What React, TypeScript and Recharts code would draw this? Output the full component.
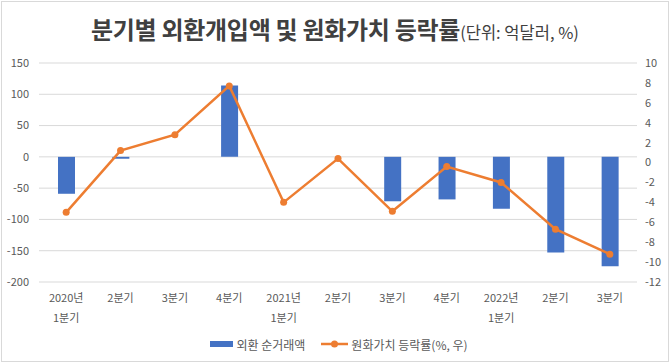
import React from 'react';
import { ComposedChart, Bar, Line, XAxis, YAxis, CartesianGrid, Legend } from 'recharts';

// 분기 라벨 (줄바꿈은 \n)
const quarters = [
  '2020년\n1분기', '2분기', '3분기', '4분기',
  '2021년\n1분기', '2분기', '3분기', '4분기',
  '2022년\n1분기', '2분기', '3분기',
];
// 외환 순거래액 (억달러)
const netTrade = [-59, -3, null, 114, null, null, -71, -68, -83, -153, -175];
// 원화가치 등락률 (%)
const wonChange = [-5.0, 1.2, 2.8, 7.7, -4.0, 0.4, -4.9, -0.4, -2.0, -6.7, -9.2];

const leftTicks = [-200, -150, -100, -50, 0, 50, 100, 150];
const rightTicks = [-12, -10, -8, -6, -4, -2, 0, 2, 4, 6, 8, 10];

const FONT = '"Noto Sans CJK KR", "Noto Sans", sans-serif';
const BLUE = '#4472C4';
const ORANGE = '#ED7D31';
const GREY = '#595959';

const data = quarters.map((q, i) => ({
  q,
  net: netTrade[i],
  won: wonChange[i],
}));

const QuarterTick = ({ x, y, payload }: any) => {
  const lines = String(payload.value).split('\n');
  return (
    <text x={x} y={y} textAnchor="middle" fontSize={11} fill={GREY} fontFamily={FONT}>
      {lines.map((l, i) => (
        <tspan key={i} x={x} y={y + 20 + i * 20}>{l}</tspan>
      ))}
    </text>
  );
};

const CustomLegend = () => (
  <div
    style={{
      display: 'flex',
      justifyContent: 'center',
      alignItems: 'center',
      height: 24,
      fontSize: 12,
      color: GREY,
      fontFamily: FONT,
      paddingLeft: 8,
    }}
  >
    <span style={{ display: 'inline-block', width: 23, height: 6, background: BLUE, marginRight: 3 }} />
    <span>외환 순거래액</span>
    <svg width={27} height={10} style={{ marginLeft: 16, marginRight: 3 }}>
      <line x1={0} y1={5} x2={27} y2={5} stroke={ORANGE} strokeWidth={2.5} />
      <circle cx={13.5} cy={5} r={3.5} fill={ORANGE} />
    </svg>
    <span>원화가치 등락률(%, 우)</span>
  </div>
);

export default function App() {
  return (
    <div
      style={{
        position: 'fixed',
        left: 0,
        top: 0,
        width: 670,
        height: 363,
        background: '#fff',
        fontFamily: FONT,
      }}
    >
      <div
        style={{
          position: 'absolute',
          left: 1,
          top: 1,
          width: 668,
          height: 361,
          border: '1px solid #d9d9d9',
          boxSizing: 'border-box',
        }}
      />
      <div
        style={{
          position: 'absolute',
          left: 0,
          top: 14,
          width: 670,
          textAlign: 'center',
          color: '#404040',
          whiteSpace: 'nowrap',
          lineHeight: '30px',
        }}
      >
        <span style={{ fontSize: 24, fontWeight: 700, letterSpacing: -0.3 }}>
          분기별 외환개입액 및 원화가치 등락률
        </span>
        <span style={{ fontSize: 16.5, fontWeight: 400 }}>(단위: 억달러, %)</span>
      </div>
      <ComposedChart
        width={670}
        height={363}
        data={data}
        margin={{ top: 63, right: 0, bottom: 7, left: 0 }}
        barSize={17}
      >
        <CartesianGrid yAxisId="left" vertical={false} stroke="#d9d9d9" />
        <XAxis
          dataKey="q"
          axisLine={false}
          tickLine={false}
          tickSize={0}
          tickMargin={0}
          height={50}
          interval={0}
          tick={<QuarterTick />}
        />
        <YAxis
          yAxisId="left"
          domain={[-200, 150]}
          ticks={leftTicks}
          width={39}
          axisLine={false}
          tickLine={false}
          tickSize={0}
          tickMargin={10}
          tick={{ fill: GREY, fontSize: 11, fontFamily: FONT }}
        />
        <YAxis
          yAxisId="right"
          orientation="right"
          domain={[-12, 10]}
          ticks={rightTicks}
          width={33}
          axisLine={false}
          tickLine={false}
          tickSize={0}
          tickMargin={8}
          tick={{ fill: GREY, fontSize: 11, fontFamily: FONT, textAnchor: 'start' }}
        />
        <Legend verticalAlign="bottom" height={24} content={<CustomLegend />} />
        <Bar yAxisId="left" dataKey="net" name="외환 순거래액" fill={BLUE} isAnimationActive={false} />
        <Line
          yAxisId="right"
          dataKey="won"
          name="원화가치 등락률(%, 우)"
          stroke={ORANGE}
          strokeWidth={2.5}
          dot={{ r: 3.5, fill: ORANGE, stroke: ORANGE, strokeWidth: 0 }}
          isAnimationActive={false}
        />
      </ComposedChart>
    </div>
  );
}
